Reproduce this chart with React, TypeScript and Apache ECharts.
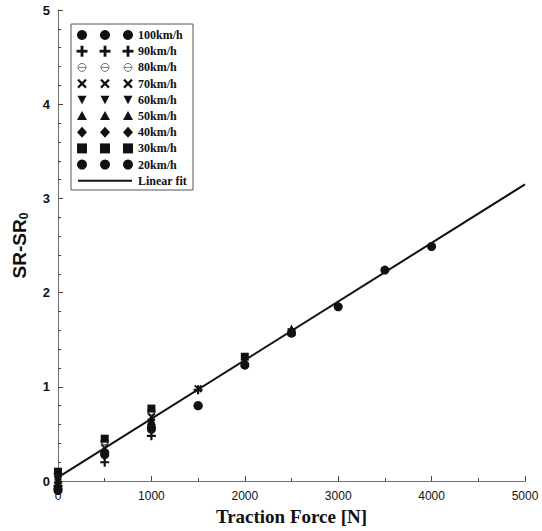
import React, { useEffect, useRef } from "react";
import * as echarts from "echarts";

const speeds = ["100km/h", "90km/h", "80km/h", "70km/h", "60km/h", "50km/h", "40km/h", "30km/h", "20km/h"];

const s100 = [[0, -0.1], [500, 0.3], [1000, 0.57], [1500, 0.8], [2000, 1.23], [2500, 1.57], [3000, 1.85], [3500, 2.24], [4000, 2.49]];
const s90 = [[0, -0.05], [500, 0.2], [1000, 0.48], [1500, 0.97]];
const s80 = [[0, 0.08], [500, 0.42], [1000, 0.74]];
const s70 = [[0, 0.02], [500, 0.35], [1000, 0.68], [1500, 0.98]];
const s60 = [[0, 0.0], [500, 0.25], [1000, 0.62]];
const s50 = [[0, 0.05], [500, 0.33], [1000, 0.65], [2500, 1.62]];
const s40 = [[0, -0.02], [500, 0.3], [1000, 0.6], [2000, 1.25]];
const s30 = [[0, 0.1], [500, 0.45], [1000, 0.77], [2000, 1.32], [2500, 1.58]];
const s20 = [[0, -0.08], [500, 0.28], [1000, 0.55], [1500, 0.8]];
const fitLine = [[0, 0.04], [5000, 3.15]];

const xTicks = [0, 1000, 2000, 3000, 4000, 5000];
const yTicks = [0, 1, 2, 3, 4, 5];

const seriesData = [s100, s90, s80, s70, s60, s50, s40, s30, s20];

const PLUS = "path://M3.8,0H6.2V3.8H10V6.2H6.2V10H3.8V6.2H0V3.8H3.8Z";
const CROSS = "path://M0,1.5L1.5,0L5,3.5L8.5,0L10,1.5L6.5,5L10,8.5L8.5,10L5,6.5L1.5,10L0,8.5L3.5,5Z";
const symbols = ["circle", PLUS, "emptyCircle", CROSS, "triangle", "triangle", "diamond", "rect", "circle"];
const rotates = [0, 0, 0, 0, 180, 0, 0, 0, 0];
const sizes = [9, 9, 7, 8, 8, 8, 9, 8, 9];

const INK = "#111";

export default function App() {
  const ref = useRef<HTMLDivElement>(null);
  useEffect(() => {
    if (!ref.current) return;
    const chart = echarts.init(ref.current, null, { renderer: "svg" });

    const legendItems: any[] = [];
    const rowY0 = 35;
    const rowGap = 16.2;
    const cols = [82, 105, 128];
    const drawMarker = (idx: number, cx: number, cy: number) => {
      const st = { fill: INK };
      switch (idx) {
        case 0:
        case 8:
          return [{ type: "circle", shape: { cx, cy, r: 5 }, style: st }];
        case 1:
          return [
            { type: "rect", shape: { x: cx - 5.5, y: cy - 1.4, width: 11, height: 2.8 }, style: st },
            { type: "rect", shape: { x: cx - 1.4, y: cy - 5.5, width: 2.8, height: 11 }, style: st },
          ];
        case 2:
          return [
            { type: "circle", shape: { cx, cy, r: 4 }, style: { fill: "none", stroke: "#777", lineWidth: 1 } },
            { type: "line", shape: { x1: cx - 4, y1: cy, x2: cx + 4, y2: cy }, style: { stroke: "#777", lineWidth: 1 } },
          ];
        case 3:
          return [
            { type: "line", shape: { x1: cx - 4, y1: cy - 4, x2: cx + 4, y2: cy + 4 }, style: { stroke: INK, lineWidth: 2.2 } },
            { type: "line", shape: { x1: cx - 4, y1: cy + 4, x2: cx + 4, y2: cy - 4 }, style: { stroke: INK, lineWidth: 2.2 } },
          ];
        case 4:
          return [{ type: "polygon", shape: { points: [[cx - 4.5, cy - 4], [cx + 4.5, cy - 4], [cx, cy + 4.5]] }, style: st }];
        case 5:
          return [{ type: "polygon", shape: { points: [[cx - 5, cy + 4], [cx + 5, cy + 4], [cx, cy - 5]] }, style: st }];
        case 6:
          return [{ type: "polygon", shape: { points: [[cx, cy - 5.5], [cx + 5, cy], [cx, cy + 5.5], [cx - 5, cy]] }, style: st }];
        case 7:
          return [{ type: "rect", shape: { x: cx - 5, y: cy - 5, width: 10, height: 10 }, style: st }];
      }
      return [];
    };
    legendItems.push({
      type: "rect",
      shape: { x: 71, y: 24, width: 122, height: 166 },
      style: { fill: "#fff", stroke: "#555", lineWidth: 1 },
    });
    speeds.forEach((name, i) => {
      const cy = rowY0 + i * rowGap;
      cols.forEach((cx) => legendItems.push(...drawMarker(i, cx, cy)));
      legendItems.push({
        type: "text",
        x: 138,
        y: cy,
        style: { text: name, fill: INK, font: "bold 12px 'Liberation Serif'", verticalAlign: "middle" },
      });
    });
    const fitY = rowY0 + 9 * rowGap;
    legendItems.push({
      type: "line",
      shape: { x1: 78, y1: fitY, x2: 132, y2: fitY },
      style: { stroke: INK, lineWidth: 2 },
    });
    legendItems.push({
      type: "text",
      x: 138,
      y: fitY,
      style: { text: "Linear fit", fill: INK, font: "bold 12px 'Liberation Serif'", verticalAlign: "middle" },
    });

    const dotted = { show: true, lineStyle: { color: "#666", type: "dotted", width: 1 } };

    chart.setOption({
      animation: false,
      backgroundColor: "#fff",
      grid: { left: 58, right: 17, top: 10, bottom: 47, show: false },
      xAxis: [
        {
          type: "value",
          min: 0,
          max: 5000,
          interval: 1000,
          axisLine: dotted,
          axisTick: { show: true, inside: true, length: 5, lineStyle: { color: "#444" } },
          minorTick: { show: true, splitNumber: 2, length: 3, lineStyle: { color: "#444" } },
          splitLine: { show: false },
          axisLabel: {
            color: INK,
            fontFamily: "Liberation Sans",
            fontSize: 12,
            margin: 9,
            formatter: (v: number) => (xTicks.includes(v) ? String(v) : ""),
          },
          name: "Traction Force [N]",
          nameLocation: "middle",
          nameGap: 24,
          nameTextStyle: { fontFamily: "Liberation Serif", fontWeight: "bold", fontSize: 19, color: INK },
        },
        {
          type: "value",
          position: "top",
          min: 0,
          max: 5000,
          interval: 1000,
          axisLine: dotted,
          axisTick: { show: false },
          axisLabel: { show: false },
          splitLine: { show: false },
        },
      ],
      yAxis: [
        {
          type: "value",
          min: 0,
          max: 5,
          interval: 1,
          axisLine: dotted,
          axisTick: { show: true, inside: true, length: 5, lineStyle: { color: "#444" } },
          minorTick: { show: true, splitNumber: 5, length: 3, lineStyle: { color: "#444" } },
          splitLine: { show: false },
          axisLabel: {
            color: INK,
            fontFamily: "Liberation Sans",
            fontWeight: "bold",
            fontSize: 13,
            margin: 8,
            formatter: (v: number) => (yTicks.includes(v) ? String(v) : ""),
          },
          name: "{m|SR-SR}{s|0}",
          nameLocation: "middle",
          nameGap: 28,
          nameRotate: 90,
          nameTextStyle: {
            rich: {
              m: { fontFamily: "Liberation Sans", fontWeight: "bold", fontSize: 19, color: INK },
              s: { fontFamily: "Liberation Sans", fontWeight: "bold", fontSize: 12, color: INK, verticalAlign: "bottom", padding: [9, 0, 0, 0] },
            },
          },
        },
        {
          type: "value",
          position: "right",
          min: 0,
          max: 5,
          interval: 1,
          axisLine: dotted,
          axisTick: { show: false },
          axisLabel: { show: false },
          splitLine: { show: false },
        },
      ],
      series: [
        ...seriesData.map((d, i) => ({
          type: "scatter",
          name: speeds[i],
          data: d,
          symbol: symbols[i],
          symbolSize: sizes[i],
          symbolRotate: rotates[i],
          clip: false,
          itemStyle: i === 2 ? { color: "#555", borderColor: "#555" } : { color: INK, opacity: 1 },
          z: 3,
        })),
        {
          type: "line",
          name: "Linear fit",
          data: fitLine,
          showSymbol: false,
          symbol: "none",
          lineStyle: { color: INK, width: 2 },
          z: 4,
        },
      ],
      graphic: legendItems,
    });
    return () => chart.dispose();
  }, []);
  return <div ref={ref} style={{ position: "fixed", left: 0, top: 0, width: 542, height: 531 }} />;
}
